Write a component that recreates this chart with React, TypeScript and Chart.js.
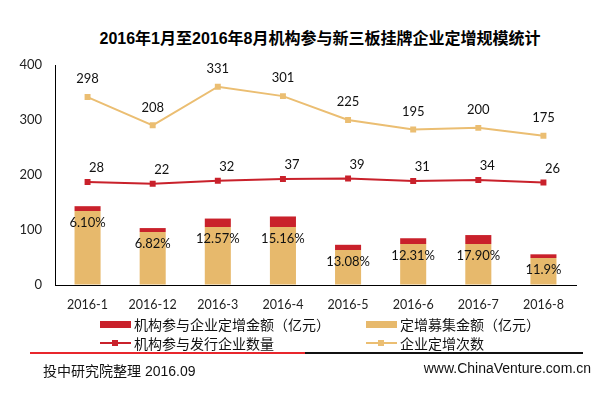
import React, { useEffect, useRef } from "react";
import { Chart, registerables } from "chart.js";

Chart.register(...registerables);

const categories = ["2016-1", "2016-12", "2016-3", "2016-4", "2016-5", "2016-6", "2016-7", "2016-8"];
const institutionAmount = [8.8, 7.1, 15.3, 19.1, 9.5, 10.5, 16.3, 6.7];
const raisedAmount = [134.5, 96.4, 105.5, 105.5, 63.6, 74.5, 74.5, 49.1];
const pctLabels = ["6.10%", "6.82%", "12.57%", "15.16%", "13.08%", "12.31%", "17.90%", "11.9%"];
const institutionCount = [28, 22, 32, 37, 39, 31, 34, 26];
const placementCount = [298, 208, 331, 301, 225, 195, 200, 175];
const yTicks = [0, 100, 200, 300, 400];

const RED = "#C9212B";
const YELLOW = "#E7B96C";
const YELLOW_LINE = "#EBBE72";
const TICK_FONT = "Lato, 'Open Sans', sans-serif";
const CJK_FONT = "'Liberation Sans', 'Noto Sans CJK SC', sans-serif";

const labelPlugin = {
  id: "valueLabels",
  afterDatasetsDraw(chart: any) {
    const ctx = chart.ctx;
    ctx.save();
    ctx.font = `13px ${TICK_FONT}`;
    ctx.fillStyle = "#111";
    ctx.textAlign = "center";
    ctx.textBaseline = "middle";
    const redBars = chart.getDatasetMeta(1);
    redBars.data.forEach((el: any, i: number) => {
      const p = el.getProps(["x", "base"], true);
      ctx.fillText(pctLabels[i], p.x, p.base + 12);
    });
    const redLine = chart.getDatasetMeta(2);
    redLine.data.forEach((el: any, i: number) => {
      ctx.fillText(String(institutionCount[i]), el.x + 9, el.y - 14);
    });
    const yLine = chart.getDatasetMeta(3);
    yLine.data.forEach((el: any, i: number) => {
      ctx.fillText(String(placementCount[i]), el.x, el.y - 18);
    });
    ctx.restore();
  },
};

function LegendItem({ x, y, kind, color, text }: { x: number; y: number; kind: "bar" | "line"; color: string; text: string }) {
  return (
    <div style={{ position: "absolute", left: x, top: y - 10, height: 20, display: "flex", alignItems: "center" }}>
      <div style={{ position: "relative", width: 31, height: 20, marginRight: 3 }}>
        {kind === "bar" ? (
          <div style={{ position: "absolute", left: 0, top: 7, width: 31, height: 7, background: color }} />
        ) : (
          <>
            <div style={{ position: "absolute", left: 0, top: 9, width: 31, height: 2, background: color }} />
            <div style={{ position: "absolute", left: 12, top: 7, width: 6, height: 6, background: color }} />
          </>
        )}
      </div>
      <span style={{ font: `14px 'Noto Sans CJK SC', sans-serif`, color: "#111", lineHeight: "20px", whiteSpace: "nowrap" }}>{text}</span>
    </div>
  );
}

export default function App() {
  const ref = useRef<HTMLCanvasElement>(null);
  useEffect(() => {
    if (!ref.current) return;
    const chart = new Chart(ref.current, {
      type: "bar",
      data: {
        labels: categories,
        datasets: [
          {
            type: "bar",
            label: "定增募集金额（亿元）",
            data: raisedAmount,
            backgroundColor: YELLOW,
            stack: "s",
            yAxisID: "y",
            order: 2,
            categoryPercentage: 1,
            barPercentage: 0.4,
          },
          {
            type: "bar",
            label: "机构参与企业定增金额（亿元）",
            data: institutionAmount,
            backgroundColor: RED,
            stack: "s",
            yAxisID: "y",
            order: 2,
            categoryPercentage: 1,
            barPercentage: 0.4,
          },
          {
            type: "line",
            label: "机构参与发行企业数量",
            data: institutionCount,
            borderColor: RED,
            backgroundColor: RED,
            borderWidth: 2,
            pointStyle: "rect",
            pointRadius: 4.2,
            pointBorderWidth: 0,
            yAxisID: "y1",
            order: 1,
            tension: 0,
          },
          {
            type: "line",
            label: "企业定增次数",
            data: placementCount,
            borderColor: YELLOW_LINE,
            backgroundColor: YELLOW_LINE,
            borderWidth: 2,
            pointStyle: "rect",
            pointRadius: 4.2,
            pointBorderWidth: 0,
            yAxisID: "y1",
            order: 0,
            tension: 0,
          },
        ] as any,
      },
      options: {
        responsive: false,
        animation: false,
        devicePixelRatio: 1,
        layout: { padding: { left: 0, right: 34, top: 65, bottom: 86 } },
        plugins: { legend: { display: false }, title: { display: false }, tooltip: { enabled: false } },
        scales: {
          x: {
            stacked: true,
            grid: { display: true, drawOnChartArea: false, drawTicks: false },
            border: { display: true, color: "#000", width: 1 },
            ticks: { font: { family: TICK_FONT, size: 12.5 }, color: "#222", padding: 12, maxRotation: 0 },
            afterFit: (s: any) => {
              s.height = 25;
            },
          },
          y: {
            stacked: true,
            min: 0,
            max: 400,
            afterBuildTicks: (s: any) => {
              s.ticks = yTicks.map((v) => ({ value: v }));
            },
            grid: { display: true, drawOnChartArea: false, drawTicks: false },
            border: { display: true, color: "#000", width: 1 },
            ticks: { font: { family: TICK_FONT, size: 13 }, color: "#222", padding: 13 },
            afterFit: (s: any) => {
              s.width = 55;
            },
          },
          y1: {
            display: false,
            min: -300,
            max: 400,
          },
        },
      } as any,
      plugins: [labelPlugin],
    });
    return () => chart.destroy();
  }, []);

  return (
    <div style={{ position: "absolute", left: 0, top: 0, width: 610, height: 396, background: "#fff", overflow: "hidden" }}>
      <div
        style={{
          position: "absolute",
          left: 0,
          width: 640,
          top: 25,
          height: 20,
          lineHeight: "20px",
          textAlign: "center",
          font: `bold 16px ${CJK_FONT}`,
          color: "#000",
          whiteSpace: "nowrap",
        }}
      >
        2016年1月至2016年8月机构参与新三板挂牌企业定增规模统计
      </div>
      <canvas ref={ref} width={610} height={396} style={{ position: "absolute", left: 0, top: 0 }} />
      <LegendItem x={100} y={324} kind="bar" color={RED} text="机构参与企业定增金额（亿元）" />
      <LegendItem x={366} y={324} kind="bar" color={YELLOW} text="定增募集金额（亿元）" />
      <LegendItem x={100} y={343} kind="line" color={RED} text="机构参与发行企业数量" />
      <LegendItem x={366} y={343} kind="line" color={YELLOW_LINE} text="企业定增次数" />
      <div style={{ position: "absolute", left: 30, top: 352, width: 275, height: 2, background: "#E8262C" }} />
      <div style={{ position: "absolute", left: 305, top: 352, width: 278, height: 2, background: "#111" }} />
      <div style={{ position: "absolute", left: 43, top: 360, height: 20, lineHeight: "20px", font: `14px ${CJK_FONT}`, color: "#111", whiteSpace: "nowrap" }}>
        投中研究院整理 2016.09
      </div>
      <div style={{ position: "absolute", right: 19, top: 360, height: 20, lineHeight: "20px", font: `14px ${CJK_FONT}`, color: "#111", whiteSpace: "nowrap" }}>
        www.ChinaVenture.com.cn
      </div>
    </div>
  );
}
